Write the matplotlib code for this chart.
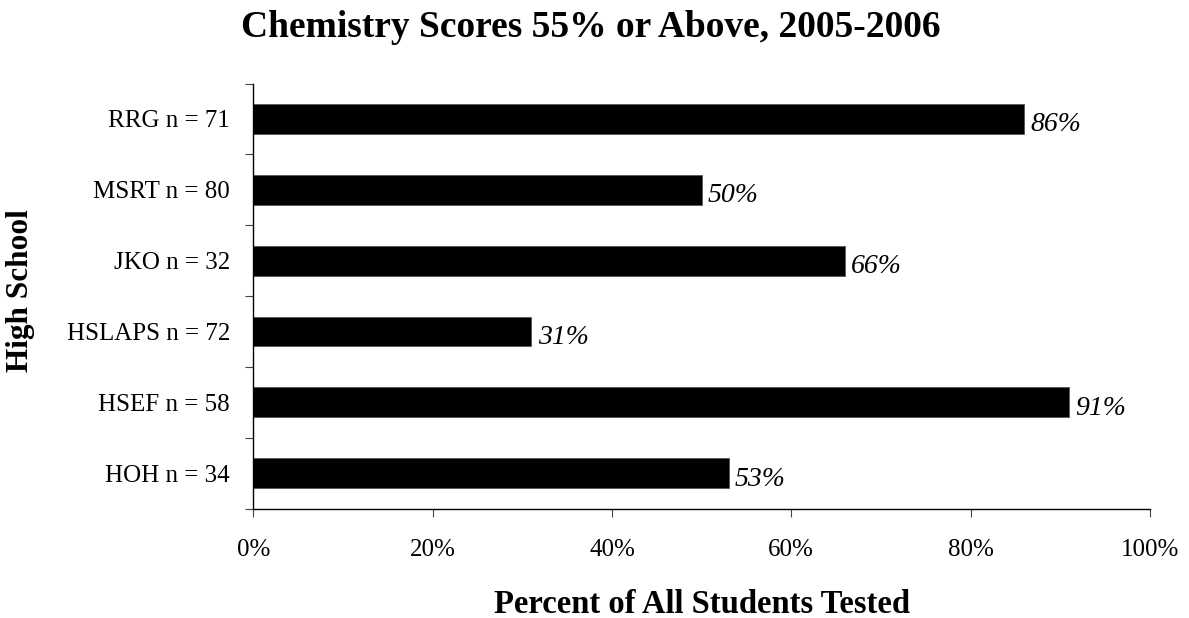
import numpy as np
import matplotlib
matplotlib.use("Agg")
import matplotlib.pyplot as plt
from matplotlib.ticker import FixedLocator, NullFormatter, PercentFormatter

plt.rcParams['font.family'] = ['Liberation Serif', 'DejaVu Serif']

# data (bottom to top, as drawn)
schools = ['HOH n = 34', 'HSEF n = 58', 'HSLAPS n = 72', 'JKO n = 32', 'MSRT n = 80', 'RRG n = 71']
pct = [53, 91, 31, 66, 50, 86]

fig = plt.figure(figsize=(11.89, 6.18), dpi=100)
ax = fig.add_axes([0.2132, 0.177, 0.967 - 0.2132, 0.8648 - 0.177])

pos = np.arange(len(schools))
ax.barh(pos, pct, height=0.42, color='black', edgecolor='#555555', linewidth=0.6)

for p, v in zip(pos, pct):
    ax.text(v + 0.7, p - 0.04, f'{v}%', va='center_baseline', ha='left', fontsize=20, style='italic')

ax.set_xlim(0, 100)
ax.set_ylim(-0.5, len(schools) - 0.5)
ax.set_xticks(np.arange(0, 101, 20))
ax.xaxis.set_major_formatter(PercentFormatter(decimals=0))

# category labels centred, ticks on the category boundaries
ax.yaxis.set_major_locator(FixedLocator(np.arange(-0.5, len(schools), 1)))
ax.yaxis.set_major_formatter(NullFormatter())
ax.yaxis.set_minor_locator(FixedLocator(pos))
ax.set_yticklabels(schools, minor=True)
ax.tick_params(axis='y', which='minor', length=0, pad=17, labelsize=18)
ax.tick_params(axis='y', which='major', length=6, direction='out', color='#444444')
ax.tick_params(axis='x', length=6, direction='out', pad=16, labelsize=18, color='#444444')

for s in ['top', 'right']:
    ax.spines[s].set_visible(False)
for s in ['left', 'bottom']:
    ax.spines[s].set_linewidth(1.0)

ax.set_xlabel('Percent of All Students Tested', fontsize=23.5, fontweight='bold')
ax.xaxis.set_label_coords(0.5, -0.188)
ax.set_ylabel('High School', fontsize=22.5, fontweight='bold')
ax.yaxis.set_label_coords(-0.244, 0.512)
fig.text(0.497, 0.940, 'Chemistry Scores 55% or Above, 2005-2006', ha='center', va='baseline',
         fontsize=27, fontweight='bold')

fig.savefig('out.png', dpi=100)
